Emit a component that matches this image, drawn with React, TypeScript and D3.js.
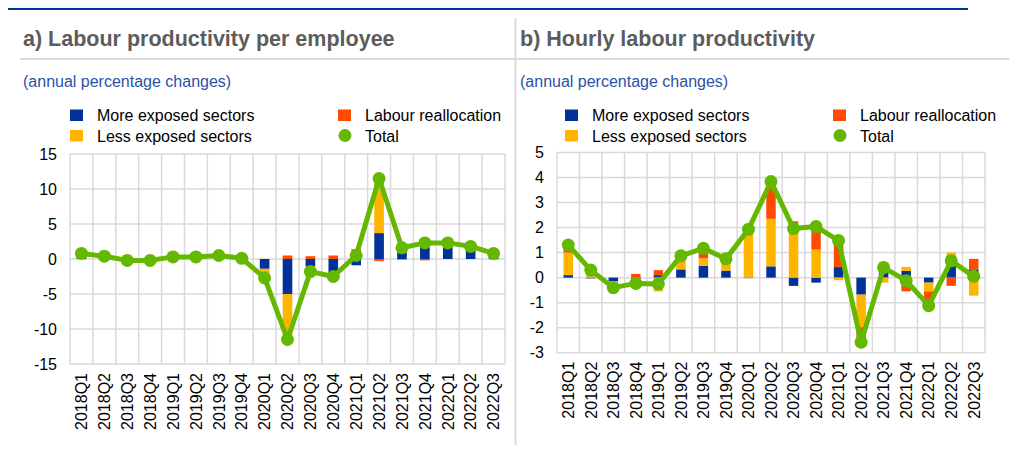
import React from 'react';
import * as d3 from 'd3';

const quarters = [
  '2018Q1', '2018Q2', '2018Q3', '2018Q4',
  '2019Q1', '2019Q2', '2019Q3', '2019Q4',
  '2020Q1', '2020Q2', '2020Q3', '2020Q4',
  '2021Q1', '2021Q2', '2021Q3', '2021Q4',
  '2022Q1', '2022Q2', '2022Q3',
];

// a) per employee
const moreA = [0.3, 0.2, -0.1, -0.1, 0.1, 0.1, 0.2, 0.0, -1.4, -5.0, -1.0, -2.0, -0.9, 3.7, 1.7, 2.3, 2.2, 1.7, 0.9];
const lessA = [0.4, 0.2, -0.1, -0.1, 0.2, 0.2, 0.3, 0.1, -1.2, -7.0, -1.2, -1.0, 1.1, 8.1, 0.0, 0.2, 0.1, 0.1, -0.1];
const reallocA = [0.1, 0.0, 0.0, 0.0, 0.0, 0.0, 0.0, 0.0, -0.1, 0.5, 0.4, 0.5, 0.3, -0.3, -0.1, -0.2, 0.0, 0.0, 0.0];
const totalA = [0.8, 0.4, -0.2, -0.2, 0.3, 0.3, 0.5, 0.1, -2.7, -11.5, -1.8, -2.5, 0.5, 11.5, 1.6, 2.3, 2.3, 1.8, 0.8];
const ticksA = [15, 10, 5, 0, -5, -10, -15];

// b) hourly
const moreB = [0.1, -0.03, -0.15, -0.05, 0.1, 0.33, 0.47, 0.28, -0.02, 0.45, -0.33, -0.2, 0.42, -0.68, 0.3, 0.27, -0.2, 0.65, 0.33];
const lessB = [0.9, 0.25, -0.2, -0.33, -0.55, 0.5, 0.3, 0.45, 1.9, 1.9, 2.15, 1.12, -0.1, -1.3, -0.2, 0.16, -0.35, 0.35, -0.72];
const reallocB = [0.3, 0.08, -0.05, 0.15, 0.2, 0.04, 0.4, 0.02, 0.05, 1.5, 0.1, 1.1, 1.15, -0.6, 0.3, -0.55, -0.55, -0.33, 0.42];
const totalB = [1.3, 0.3, -0.4, -0.23, -0.25, 0.87, 1.17, 0.75, 1.93, 3.84, 1.96, 2.04, 1.48, -2.58, 0.4, -0.12, -1.12, 0.67, 0.05];
const ticksB = [5, 4, 3, 2, 1, 0, -1, -2, -3];

const seriesNames = ['More exposed sectors', 'Less exposed sectors', 'Labour reallocation', 'Total'];
const colors = ['#003299', '#ffb400', '#ff4b00', '#65b800'];

const FONT = '"Liberation Sans", Arial, sans-serif';
const GRID = '#d9d9d9';

type PanelProps = {
  x0: number; // left of panel text
  title: string;
  left: number;
  right: number;
  top: number;
  bottom: number;
  ticks: number[];
  more: number[];
  less: number[];
  realloc: number[];
  total: number[];
  legendX: number;
  legendX2: number;
};

const Panel = (p: PanelProps) => {
  const x = d3.scaleBand<string>().domain(quarters).range([p.left, p.right]).paddingInner(0).paddingOuter(0);
  const y = d3
    .scaleLinear()
    .domain([d3.min(p.ticks) as number, d3.max(p.ticks) as number])
    .range([p.bottom, p.top]);

  const rows = quarters.map((q, i) => ({ q, more: p.more[i], less: p.less[i], realloc: p.realloc[i] }));
  const stack = d3
    .stack<any>()
    .keys(['more', 'less', 'realloc'])
    .offset(d3.stackOffsetDiverging);
  const layers = stack(rows);

  const bw = x.bandwidth() * 0.42;
  const cx = (q: string) => (x(q) as number) + x.bandwidth() / 2;

  const line = d3
    .line<number>()
    .x((_, i) => cx(quarters[i]))
    .y((d) => y(d));

  return (
    <g fontFamily={FONT}>
      <text x={p.x0} y={45.5} fontSize={21.5} fontWeight="bold" fill="#5c5c5c">
        {p.title}
      </text>
      <text x={p.x0} y={87} fontSize={16} fill="#2a52a8">
        (annual percentage changes)
      </text>

      {/* legend */}
      <g fontSize={16} fill="#000">
        <rect x={p.legendX} y={109.5} width={13} height={11.5} fill={colors[0]} />
        <text x={p.legendX + 27} y={121}>{seriesNames[0]}</text>
        <rect x={p.legendX} y={130} width={13} height={11.5} fill={colors[1]} />
        <text x={p.legendX + 27} y={141.5}>{seriesNames[1]}</text>
        <rect x={p.legendX2} y={109.5} width={13} height={11.5} fill={colors[2]} />
        <text x={p.legendX2 + 27} y={121}>{seriesNames[2]}</text>
        <circle cx={p.legendX2 + 7} cy={135.5} r={6.5} fill={colors[3]} />
        <text x={p.legendX2 + 27} y={141.5}>{seriesNames[3]}</text>
      </g>

      {/* grid */}
      {p.ticks.map((t) => (
        <line key={t} x1={p.left} x2={p.right} y1={y(t)} y2={y(t)} stroke={GRID} strokeWidth={1.5} />
      ))}
      {quarters.map((q) => (
        <line key={q} x1={x(q)} x2={x(q)} y1={p.top} y2={p.bottom} stroke={GRID} strokeWidth={1.5} />
      ))}
      <line x1={p.right} x2={p.right} y1={p.top} y2={p.bottom} stroke={GRID} strokeWidth={1.5} />

      {/* y tick labels */}
      {p.ticks.map((t) => (
        <text key={t} x={p.left - 13} y={y(t)} dy="0.36em" textAnchor="end" fontSize={16} fill="#000">
          {t}
        </text>
      ))}

      {/* x tick labels */}
      {quarters.map((q) => (
        <text
          key={q}
          transform={`translate(${cx(q)},${p.bottom + 9}) rotate(-90)`}
          dy="0.36em"
          textAnchor="end"
          fontSize={16}
          fill="#000"
        >
          {q}
        </text>
      ))}

      {/* bars */}
      {layers.map((layer, li) =>
        layer.map((d, i) => (
          <rect
            key={`${li}-${i}`}
            x={cx(quarters[i]) - bw / 2}
            width={bw}
            y={y(Math.max(d[0], d[1]))}
            height={Math.abs(y(d[0]) - y(d[1]))}
            fill={colors[li]}
          />
        ))
      )}

      {/* total */}
      <path d={line(p.total) as string} fill="none" stroke={colors[3]} strokeWidth={5} strokeLinejoin="round" />
      {p.total.map((v, i) => (
        <circle key={i} cx={cx(quarters[i])} cy={y(v)} r={6.5} fill={colors[3]} />
      ))}
    </g>
  );
};

const App = () => {
  return (
    <svg
      width={1016}
      height={452}
      style={{ position: 'absolute', left: 0, top: 0, background: '#fff' }}
    >
      <rect width={1016} height={452} fill="#fff" />
      <line x1={8} x2={968} y1={9} y2={9} stroke="#003299" strokeWidth={2} />
      <line x1={20} x2={1009} y1={59} y2={59} stroke={GRID} strokeWidth={2} />
      <line x1={515.5} x2={515.5} y1={18} y2={445} stroke={GRID} strokeWidth={2} />

      <Panel
        x0={23}
        title="a) Labour productivity per employee"
        left={70}
        right={505}
        top={154}
        bottom={364}
        ticks={ticksA}
        more={moreA}
        less={lessA}
        realloc={reallocA}
        total={totalA}
        legendX={70}
        legendX2={338}
      />
      <Panel
        x0={520}
        title="b) Hourly labour productivity"
        left={557}
        right={985}
        top={152.5}
        bottom={352.7}
        ticks={ticksB}
        more={moreB}
        less={lessB}
        realloc={reallocB}
        total={totalB}
        legendX={565}
        legendX2={833}
      />
    </svg>
  );
};

export default App;
